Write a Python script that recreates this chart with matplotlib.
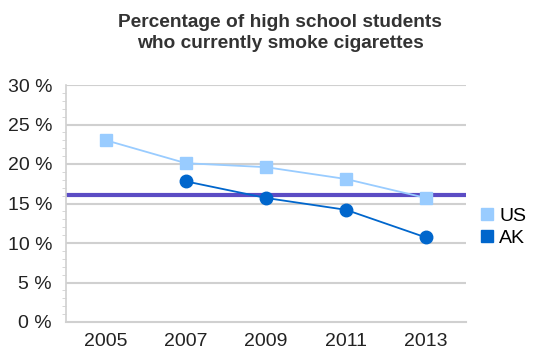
import matplotlib
matplotlib.use("Agg")
import matplotlib.pyplot as plt
from matplotlib.lines import Line2D
from matplotlib.ticker import MultipleLocator

plt.rcParams['font.family'] = ['Liberation Sans', 'DejaVu Sans']

years = ["2005", "2007", "2009", "2011", "2013"]
us = [23.0, 20.1, 19.6, 18.1, 15.7]
ak_years = ["2007", "2009", "2011", "2013"]
ak = [17.8, 15.7, 14.2, 10.7]
ref_value = 16.1
yticks = [0, 5, 10, 15, 20, 25, 30]

fig = plt.figure(figsize=(5.37, 3.5), dpi=100)
ax = fig.add_axes([66/537, 1-322/350, 400/537, (322-85)/350])

xs = list(range(len(years)))
ak_x = [years.index(y) for y in ak_years]

for t in yticks[1:]:
    ax.axhline(t, color='#d0d0d0', lw=1.5, zorder=0)
ax.axhline(ref_value, color='#5b4cc4', lw=3, zorder=1)

ax.plot(xs, us, color='#99ccff', lw=1.3, marker='s', ms=9, zorder=3)
ax.plot(ak_x, ak, color='#0066cc', lw=1.3, marker='o', ms=9, zorder=4)

ax.set_xlim(-0.5, 4.5)
ax.set_ylim(0, 30)
ax.set_xticks(xs)
ax.set_xticklabels(years)
ax.set_yticks(yticks)
ax.set_yticklabels([f"{t} %" for t in yticks])
ax.yaxis.set_minor_locator(MultipleLocator(1))
ax.tick_params(axis='y', which='major', length=0, pad=10, labelsize=14, labelcolor='#222222')
ax.tick_params(axis='y', which='minor', length=3, color='#d0d0d0', direction='out')
ax.tick_params(axis='x', length=0, pad=8, labelsize=14, labelcolor='#222222')

for s in ['top', 'right']:
    ax.spines[s].set_visible(False)
ax.spines['left'].set_color('#d0d0d0')
ax.spines['bottom'].set_color('#d0d0d0')
ax.spines['left'].set_linewidth(1.2)
ax.spines['bottom'].set_linewidth(1.5)

fig.text(280/537, 1-33/350, "Percentage of high school students\nwho currently smoke cigarettes",
         ha='center', va='center', fontsize=13.8, fontweight='bold', color='#333333', linespacing=1.3)

handles = [Line2D([], [], ls='none', marker='s', ms=8, color='#99ccff'),
           Line2D([], [], ls='none', marker='s', ms=8, color='#0066cc')]
fig.legend(handles, ["US", "AK"], loc='center left', bbox_to_anchor=(480/537, 1-227/350),
           frameon=False, fontsize=14, handlelength=0.7, handletextpad=0.3, labelspacing=0.25,
           borderpad=0, borderaxespad=0)

fig.savefig("out.png", dpi=100)
